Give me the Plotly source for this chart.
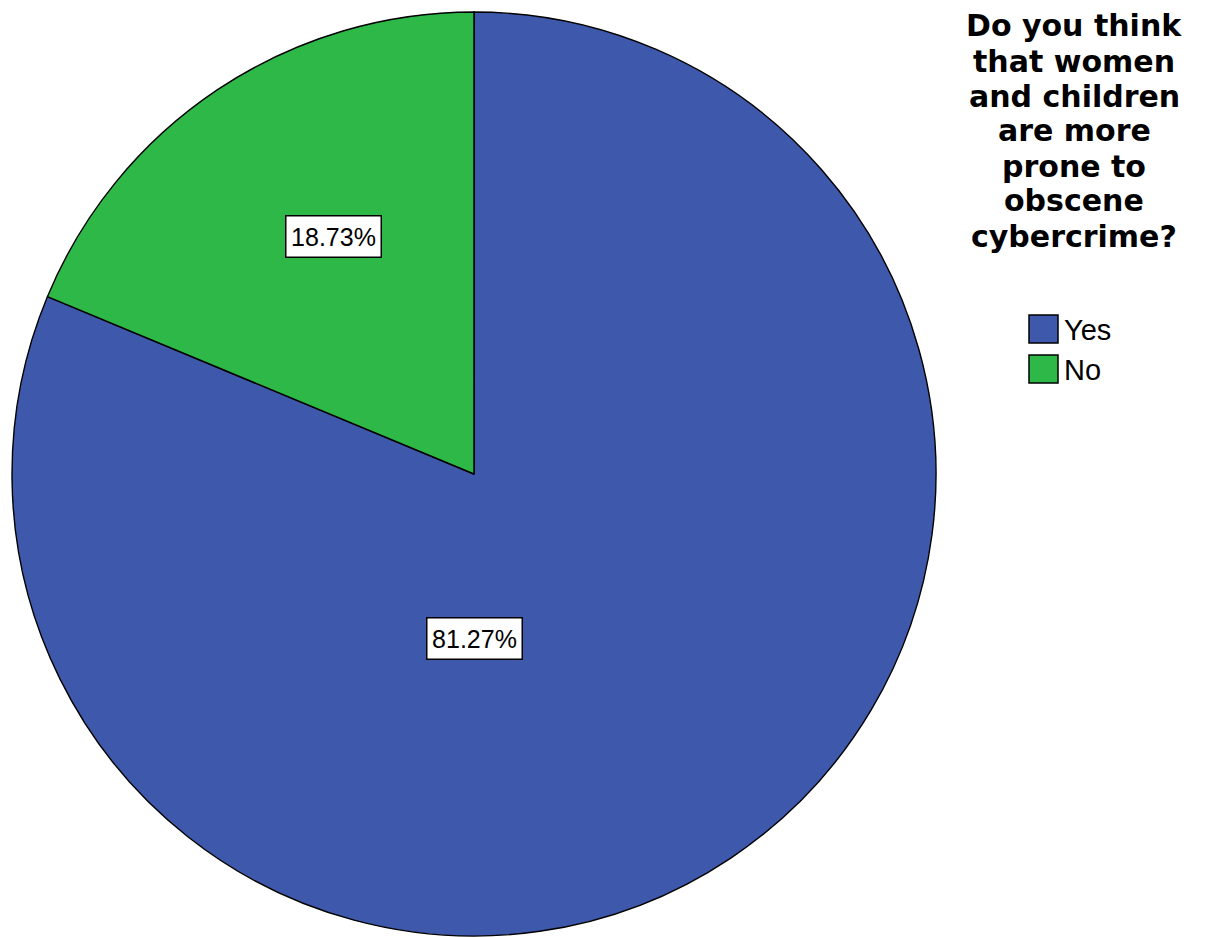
import plotly.graph_objects as go

# Survey responses
categories = ["Yes", "No"]
percentages = [81.27, 18.73]
colors = ["#3E58AC", "#2EB848"]
title_lines = ["Do you think", "that women", "and children", "are more",
               "prone to", "obscene", "cybercrime?"]

W, H = 1207, 937


def px(x):
    return x / W


def py(y):
    return 1 - y / H


fig = go.Figure()
fig.add_trace(go.Pie(
    labels=categories,
    values=percentages,
    sort=False,
    direction="clockwise",
    rotation=0,
    marker=dict(colors=colors, line=dict(color="black", width=1.4)),
    textinfo="none",
    hoverinfo="label+percent",
    showlegend=False,
    domain=dict(x=[px(12), px(936)], y=[py(936), py(12)]),
))

annotations = []
# percentage labels in white boxes
label_pos = {"Yes": (474, 638), "No": (333, 236)}
for cat, val in zip(categories, percentages):
    x, y = label_pos[cat]
    annotations.append(dict(
        x=px(x), y=py(y), xref="paper", yref="paper",
        text=f"{val:.2f}%", showarrow=False,
        font=dict(family="Liberation Sans, Arial", size=25, color="black"),
        bgcolor="white", bordercolor="black", borderwidth=1.5, borderpad=0,
        width=94, height=40,
        xanchor="center", yanchor="middle",
    ))

# legend title, one annotation per line for tight spacing
for i, line in enumerate(title_lines):
    annotations.append(dict(
        x=px(1074), y=py(26 + i * 35), xref="paper", yref="paper",
        text=f"<b>{line}</b>", showarrow=False,
        font=dict(family="DejaVu Sans", size=30, color="black"),
        borderpad=0, xanchor="center", yanchor="middle",
    ))

# legend entries
shapes = []
for i, (cat, col) in enumerate(zip(categories, colors)):
    top = 315 + i * 40
    shapes.append(dict(
        type="rect", xref="paper", yref="paper",
        x0=px(1029), x1=px(1058), y0=py(top + 28), y1=py(top),
        fillcolor=col, line=dict(color="black", width=1.5),
    ))
    annotations.append(dict(
        x=px(1062), y=py(top + 15), xref="paper", yref="paper",
        text=cat, showarrow=False,
        font=dict(family="Liberation Sans, Arial", size=29, color="black"),
        xanchor="left", yanchor="middle",
    ))

fig.update_layout(
    width=W, height=H,
    margin=dict(l=0, r=0, t=0, b=0),
    paper_bgcolor="white",
    plot_bgcolor="white",
    annotations=annotations,
    shapes=shapes,
)

fig.write_html("out.html")
